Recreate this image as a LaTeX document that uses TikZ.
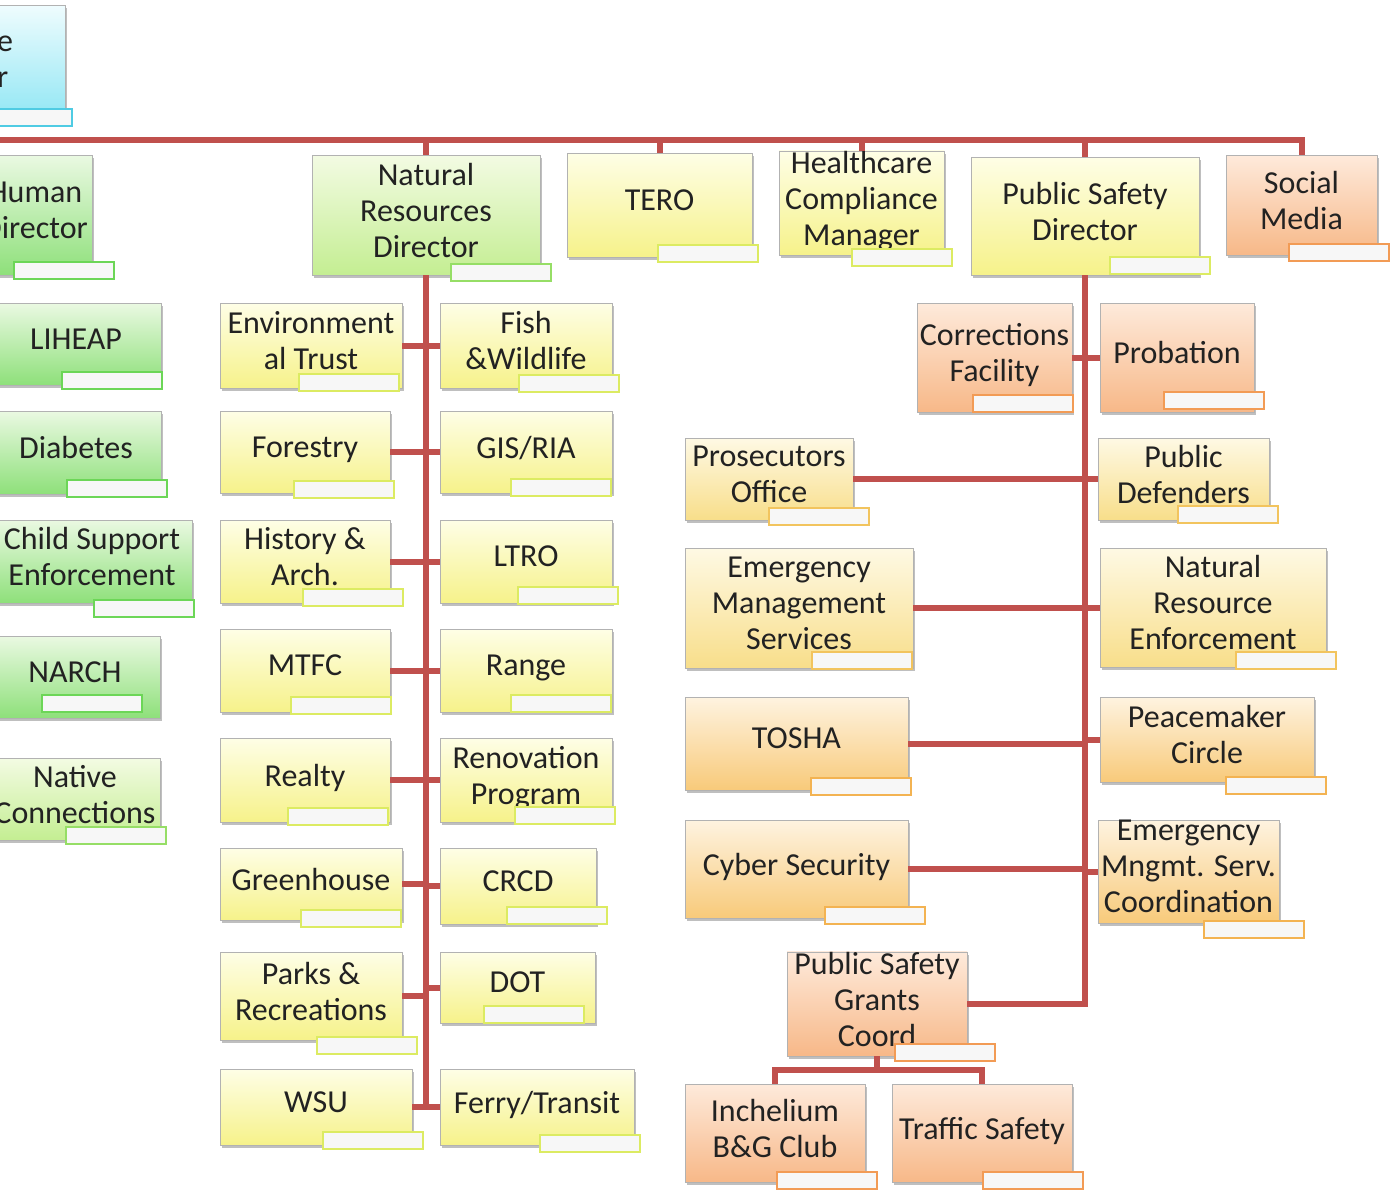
\documentclass[tikz,border=0pt]{standalone}
\usepackage{fontspec}
\setmainfont{Carlito}
\usetikzlibrary{calc,positioning,shadows}

\definecolor{linkred}{HTML}{C0504D}
\definecolor{txt}{HTML}{222222}
\definecolor{excA}{HTML}{EFFCFE}\definecolor{excB}{HTML}{8EE6F4}\definecolor{excL}{HTML}{4FCBE3}
\definecolor{humA}{HTML}{EAF9E2}\definecolor{humB}{HTML}{8EE07A}\definecolor{humL}{HTML}{6CD657}
\definecolor{limA}{HTML}{F3FBE3}\definecolor{limB}{HTML}{C4EE92}\definecolor{limL}{HTML}{96DE66}
\definecolor{yelA}{HTML}{FEFEE6}\definecolor{yelB}{HTML}{F6F28A}\definecolor{yelL}{HTML}{DCEB62}
\definecolor{golA}{HTML}{FEF9E4}\definecolor{golB}{HTML}{F8DE8A}\definecolor{golL}{HTML}{F2C45E}
\definecolor{ambA}{HTML}{FEF3E0}\definecolor{ambB}{HTML}{F8CA7A}\definecolor{ambL}{HTML}{F3B352}
\definecolor{orgA}{HTML}{FEEADB}\definecolor{orgB}{HTML}{F7B888}\definecolor{orgL}{HTML}{F29B55}

\begin{document}
\begin{tikzpicture}[x=1pt,y=-1pt,
    every node/.style={font=\fontsize{32}{36}\selectfont,text=txt,align=center,inner sep=0pt},
    up/.style={execute at end node={\rule[-#1pt]{0pt}{0pt}}},
    box/.style={draw=black!30,line width=0.5pt,top color=#1A,bottom color=#1B,up=10,
        drop shadow={shadow xshift=2pt,shadow yshift=-3pt,opacity=.5}},
    dim/.style 2 args={minimum width=#1pt,minimum height=#2pt},
    tab/.style={anchor=south east,draw=#1L,line width=2pt,fill=black!3,
        minimum width=100pt,minimum height=17pt},
    link/.style={draw=linkred,line width=6pt}
]
\fill[white] (0,0) rectangle (1392,1189);
\useasboundingbox (0,0) rectangle (1392,1189);
\clip (0,0) rectangle (1392,1189);

% top left
\node[box=exc,dim={230}{117}] (exec) at (-50,63.5) {};
\node[anchor=west,align=left] (exectxt) at (-3,62) {e\\r};

% human services column
\node[box=hum,dim={114}{120}] (human) at (35,215) {Human\\Director};
\node[box=hum,dim={170}{82}] (liheap) at (76,344) {LIHEAP};
\node[box=hum,dim={170}{83}] (diab) at (76,452.5) {Diabetes};
\node[box=hum,dim={200}{83}] (csup) at (92,561.5) {Child Support\\Enforcement};
\node[box=hum,dim={170}{82}] (narch) at (75,677) {NARCH};
\node[box=lim,dim={170}{82}] (native) at (75,799) {Native\\Connections};

% natural resources
\node[box=lim,dim={228}{120}] (nrd) at (426,215) {Natural\\Resources\\Director};
\node[box=yel,dim={182}{85}] (envt) at (311,345.5) {Environment\\al Trust};
\node[box=yel,dim={172}{85}] (fish) at (526,345.5) {Fish\\\&Wildlife};
\node[box=yel,dim={170}{82}] (forest) at (305,452) {Forestry};
\node[box=yel,dim={172}{82}] (gis) at (526,452) {GIS/RIA};
\node[box=yel,dim={170}{83}] (hist) at (305,561.5) {History \&\\Arch.};
\node[box=yel,dim={172}{83}] (ltro) at (526,561.5) {LTRO};
\node[box=yel,dim={170}{83}] (mtfc) at (305,670.5) {MTFC};
\node[box=yel,dim={172}{83}] (range) at (526,670.5) {Range};
\node[box=yel,dim={170}{84}] (realty) at (305,780) {Realty};
\node[box=yel,dim={172}{84}] (renov) at (526,780) {Renovation\\Program};
\node[box=yel,dim={182}{72}] (green) at (311,884) {Greenhouse};
\node[box=yel,dim={156}{76}] (crcd) at (518,886) {CRCD};
\node[box=yel,dim={182}{88}] (parks) at (311,996) {Parks \&\\Recreations};
\node[box=yel,dim={155}{71}] (dot) at (517.5,987.5) {DOT};
\node[box=yel,dim={192}{76}] (wsu) at (316,1107) {WSU};
\node[box=yel,dim={194}{76}] (ferry) at (537,1107) {Ferry/Transit};

% top row
\node[box=yel,dim={185}{104}] (tero) at (659.5,205) {TERO};
\node[box=yel,dim={165}{100},up=0] (hcm) at (861.5,203) {Healthcare\\Compliance\\Manager};
\node[box=yel,dim={228}{118}] (psd) at (1085,216) {Public Safety\\Director};
\node[box=org,dim={151}{100}] (social) at (1301.5,205) {Social\\Media};

% public safety
\node[box=org,dim={155}{109}] (corr) at (994.5,357.5) {Corrections\\Facility};
\node[box=org,dim={154}{109}] (prob) at (1177,357.5) {Probation};
\node[box=gol,dim={168}{82}] (pros) at (769,479) {Prosecutors\\Office};
\node[box=gol,dim={171}{82}] (pubdef) at (1183.5,479) {Public\\Defenders};
\node[box=gol,dim={228}{120}] (ems) at (799,608) {Emergency\\Management\\Services};
\node[box=gol,dim={226}{119}] (nre) at (1213,607.5) {Natural\\Resource\\Enforcement};
\node[box=amb,dim={223}{93}] (tosha) at (796.5,743.5) {TOSHA};
\node[box=amb,dim={214}{85}] (peace) at (1207,739.5) {Peacemaker\\Circle};
\node[box=amb,dim={223}{98}] (cyber) at (796.5,869) {Cyber Security};
\node[box=amb,dim={181}{103},up=6] (emsc) at (1188.5,871.5) {Emergency\\Mngmt. Serv.\\Coordination};
\node[box=org,dim={180}{104}] (psgc) at (877,1004) {Public Safety\\Grants\\Coord};
\node[box=org,dim={180}{98}] (inch) at (775,1133) {Inchelium\\B\&G Club};
\node[box=org,dim={180}{98}] (traffic) at (982,1133) {Traffic Safety};

% white tabs (name/colour/dx/dy from the box corner)
\foreach \n/\c/\dx/\dy in {exec/exc/8/5,human/hum/23/5,liheap/hum/2/5,diab/hum/7/4,
    csup/hum/3/15,narch/hum/-17/-5,native/lim/7/5,nrd/lim/12/7,
    envt/yel/-2/4,fish/yel/8/5,forest/yel/5/6,gis/yel/0/4,hist/yel/14/4,ltro/yel/7/2,
    mtfc/yel/2/3,range/yel/0/1,realty/yel/-1/4,renov/yel/4/3,green/yel/0/8,crcd/yel/12/1,
    parks/yel/16/15,dot/yel/-10/1,wsu/yel/12/5,ferry/yel/7/8,
    tero/yel/7/6,hcm/yel/9/12,psd/yel/12/0,social/org/13/7,corr/org/2/1,prob/org/11/-2,
    pros/gol/17/6,pubdef/gol/10/4,ems/gol/0/2,nre/gol/11/3,tosha/amb/4/6,peace/amb/13/13,
    cyber/amb/18/7,emsc/amb/26/16,psgc/org/29/6,inch/org/13/8,traffic/org/12/8}
    \node[tab=\c] (\n-tab) at ($(\n.south east)+(\dx,\dy)$) {};

% connectors
\coordinate (barL) at (-10,140);
\draw[link] (barL) -| (social.north);
\draw[link] (nrd.north) -- (nrd.north |- barL);
\draw[link] (tero.north) -- (tero.north |- barL);
\draw[link] (hcm.north) -- (hcm.north |- barL);
\draw[link] (psd.north) -- (psd.north |- barL);

\draw[link] (nrd.south) -- (nrd.south |- wsu.east);
\foreach \n in {envt,forest,hist,mtfc,realty,green,parks,wsu}
    \draw[link] (\n.east) -- (\n.east -| nrd.south);
\foreach \n in {fish,gis,ltro,range,renov,crcd,dot,ferry}
    \draw[link] (\n.west) -- (\n.west -| nrd.south);

\draw[link] (psd.south) |- (psgc.east);
\foreach \n in {corr,pros,ems,tosha,cyber}
    \draw[link] (\n.east) -- (\n.east -| psd.south);
\foreach \n in {prob,pubdef,nre,peace,emsc}
    \draw[link] (\n.west) -- (\n.west -| psd.south);
\coordinate (split) at ($(psgc.south)+(0,14)$);
\draw[link] (psgc.south) -- (split);
\draw[link] (inch.north) |- (split) -| (traffic.north);
\end{tikzpicture}
\end{document}
